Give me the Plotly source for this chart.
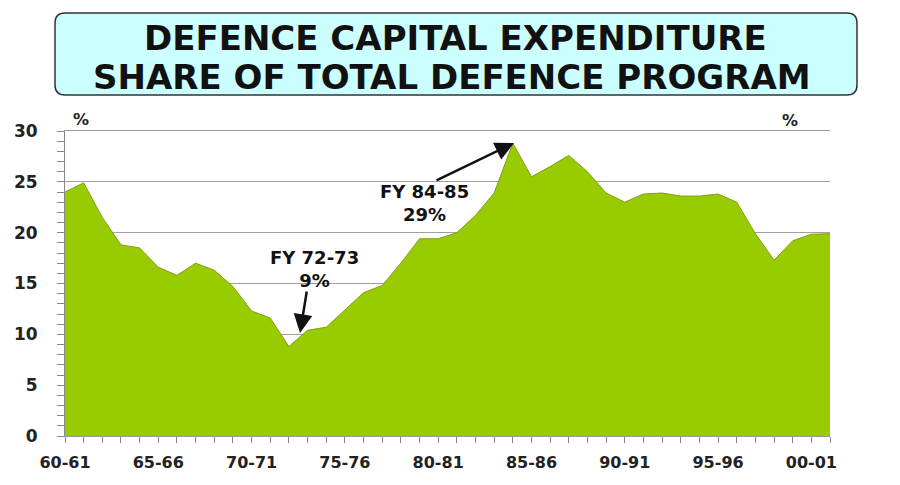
import plotly.graph_objects as go

years = ["60-61", "61-62", "62-63", "63-64", "64-65", "65-66", "66-67", "67-68", "68-69", "69-70",
         "70-71", "71-72", "72-73", "73-74", "74-75", "75-76", "76-77", "77-78", "78-79", "79-80",
         "80-81", "81-82", "82-83", "83-84", "84-85", "85-86", "86-87", "87-88", "88-89", "89-90",
         "90-91", "91-92", "92-93", "93-94", "94-95", "95-96", "96-97", "97-98", "98-99", "99-00",
         "00-01", "01-02"]
capital_share = [24.0, 24.9, 21.5, 18.8, 18.5, 16.6, 15.8, 17.0, 16.3, 14.7,
                 12.3, 11.6, 8.8, 10.4, 10.7, 12.4, 14.1, 14.8, 17.0, 19.4,
                 19.4, 20.0, 21.7, 23.9, 28.8, 25.5, 26.5, 27.6, 26.0, 23.9,
                 23.0, 23.8, 23.9, 23.6, 23.6, 23.8, 23.0, 19.9, 17.3, 19.2,
                 19.85, 19.9]
labelled_years = ["60-61", "65-66", "70-71", "75-76", "80-81", "85-86", "90-91", "95-96", "00-01"]
y_ticks = [0, 5, 10, 15, 20, 25, 30]

FONT = "DejaVu Sans"
OFF = 8  # page body margin compensation
W, H = 900, 485
# target page-pixel plot box: x 65..830, y 131..436
ML = 65 - OFF
MT = 131 - OFF
PW = 830 - 65
PH = 436 - 131
MR = W - ML - PW
MB = H - MT - PH


def px_x(p):
    return (p - 65) / PW


def px_y(p):
    return (436 - p) / PH


fig = go.Figure()
fig.add_trace(go.Scatter(
    x=years, y=capital_share, mode="lines", fill="tozeroy",
    fillcolor="#99CC00", line=dict(color="#7F9F10", width=1),
    hoverinfo="skip", showlegend=False))

ticktext = [y if y in labelled_years else "" for y in years]

axis_font = dict(family=FONT, size=17, color="#222222", weight="bold")
fig.update_layout(
    width=W, height=H,
    margin=dict(l=ML, r=MR, t=MT, b=MB, autoexpand=False),
    paper_bgcolor="white", plot_bgcolor="white",
    showlegend=False,
    xaxis=dict(type="category", range=[0, len(years) - 1],
               tickvals=years, ticktext=ticktext,
               ticks="outside", ticklen=6, tickcolor="#888888",
               showgrid=False, showline=True, mirror=True, linecolor="#999999", linewidth=1,
               tickfont=dict(family=FONT, size=16, color="#222222", weight="bold"),
               ticklabelstandoff=6, zeroline=False, tickangle=0),
    yaxis=dict(range=[0, 30], tickvals=y_ticks,
               ticks="outside", ticklen=7, tickcolor="#888888",
               minor=dict(dtick=1, ticks="outside", ticklen=7, tickcolor="#888888", showgrid=False),
               showgrid=True, gridcolor="#A0A0A0", gridwidth=1,
               showline=True, linecolor="#888888", linewidth=1,
               tickfont=axis_font, ticklabelstandoff=16, zeroline=False),
    yaxis2=dict(range=[0, 30], tickvals=y_ticks, overlaying="y", side="right", anchor="x",
                ticks="outside", ticklen=7, tickcolor="#888888",
                minor=dict(dtick=1, ticks="outside", ticklen=7, tickcolor="#888888", showgrid=False),
                showgrid=False, showline=True, linecolor="#888888", linewidth=1,
                tickfont=axis_font, ticklabelstandoff=19, zeroline=False),
)

# title box with rounded corners
x0, x1 = px_x(55), px_x(857)
y0, y1 = px_y(95), px_y(13)
rx, ry = 10 / PW, 10 / PH
path = (f"M {x0+rx},{y0} L {x1-rx},{y0} Q {x1},{y0} {x1},{y0+ry} "
        f"L {x1},{y1-ry} Q {x1},{y1} {x1-rx},{y1} L {x0+rx},{y1} "
        f"Q {x0},{y1} {x0},{y1-ry} L {x0},{y0+ry} Q {x0},{y0} {x0+rx},{y0} Z")
fig.add_shape(type="path", path=path, xref="paper", yref="paper",
              fillcolor="#CCFFFF", line=dict(color="#333333", width=1.5), layer="above")

title_font = dict(family=FONT, size=34, color="#111111", weight="bold")
fig.add_annotation(text="DEFENCE CAPITAL EXPENDITURE", xref="paper", yref="paper",
                   x=px_x(455), y=px_y(38), xanchor="center", yanchor="middle",
                   showarrow=False, font=title_font)
fig.add_annotation(text="SHARE OF TOTAL DEFENCE PROGRAM", xref="paper", yref="paper",
                   x=px_x(452), y=px_y(77.5), xanchor="center", yanchor="middle",
                   showarrow=False, font=title_font)

pct_font = dict(family=FONT, size=16, color="#222222", weight="bold")
fig.add_annotation(text="%", xref="paper", yref="paper", x=px_x(81), y=px_y(119),
                   showarrow=False, font=pct_font, xanchor="center", yanchor="middle")
fig.add_annotation(text="%", xref="paper", yref="paper", x=px_x(790), y=px_y(120),
                   showarrow=False, font=pct_font, xanchor="center", yanchor="middle")

# annotation texts
ann_font = dict(family=FONT, size=18, color="#111111", weight="bold")
cat_w = PW / (len(years) - 1)


def dx(p):
    return (p - 65) / cat_w


def dy(p):
    return (436 - p) / (PH / 30)


fig.add_annotation(text="FY 72-73<br>9%", x=dx(314), y=dy(269), xref="x", yref="y",
                   showarrow=False, font=ann_font, align="center")
fig.add_annotation(text="FY 84-85<br>29%", x=dx(424), y=dy(203), xref="x", yref="y",
                   showarrow=False, font=ann_font, align="center")

# arrows
fig.add_annotation(text="", x=dx(300), y=dy(333), ax=dx(307), ay=dy(290),
                   xref="x", yref="y", axref="x", ayref="y",
                   showarrow=True, arrowhead=2, arrowsize=1.5, arrowwidth=2.5, arrowcolor="#111111")
fig.add_annotation(text="", x=dx(514), y=dy(143), ax=dx(435), ay=dy(181),
                   xref="x", yref="y", axref="x", ayref="y",
                   showarrow=True, arrowhead=2, arrowsize=1.5, arrowwidth=2.5, arrowcolor="#111111")

fig.write_html("out.html")
